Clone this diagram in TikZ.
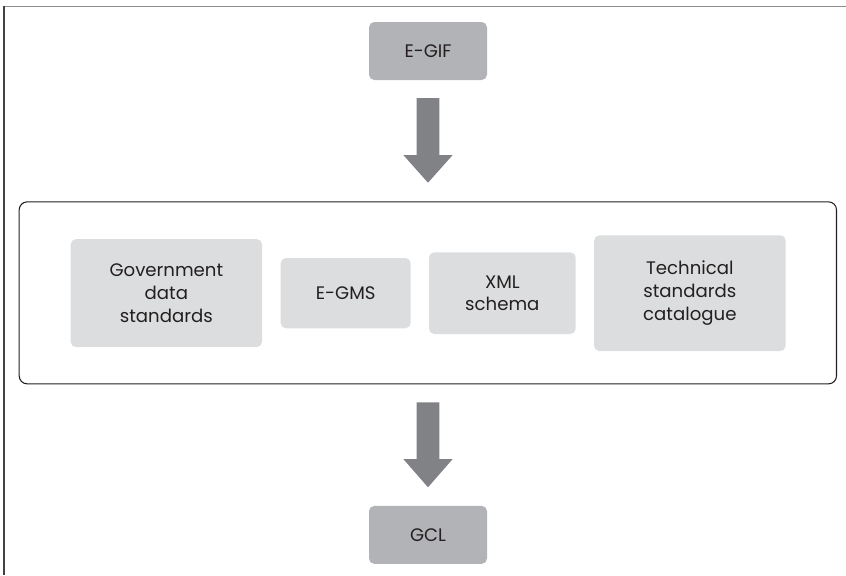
\documentclass[tikz,border=0pt]{standalone}
\usepackage{fontspec}
\setmainfont{Poppins}
\usetikzlibrary{calc}
\definecolor{darkbox}{HTML}{B2B3B6}
\definecolor{lightbox}{HTML}{DCDDDE}
\definecolor{arrowgray}{HTML}{808285}
\definecolor{txt}{HTML}{231F20}
\definecolor{topline}{HTML}{8C8C8C}
\begin{document}
\begin{tikzpicture}[x=0.75pt,y=-0.75pt,
  box/.style={rounded corners=4pt,inner sep=0pt,align=center,text=txt,
    font=\fontsize{13.6}{17}\selectfont},
  dbox/.style={box,fill=darkbox},
  lbox/.style={box,fill=lightbox},
  blockarrow/.style={fill=arrowgray}]
\useasboundingbox (0,0) rectangle (846,575);
% outer frame lines
\draw[topline,line width=1.3pt] (4,6.5) -- (846,6.5);
\draw[txt!85,line width=1.1pt] (4,6) -- (4,575);
% nodes
\node[dbox,minimum width=88.5pt,minimum height=43.5pt] (egif) at (428,51) {E-GIF};
\node[draw=txt,line width=0.8pt,rounded corners=6pt,minimum width=613pt,minimum height=136.5pt] (frame) at (427.85,292.85) {};
\node[lbox,minimum width=143.5pt,minimum height=81pt] (gov) at (166.35,293.15) {Government\\data\\standards};
\node[lbox,minimum width=97.5pt,minimum height=52.7pt] (egms) at (345.7,293.15) {E-GMS};
\node[lbox,minimum width=110pt,minimum height=61.3pt] (xml) at (502.35,293.15) {XML\\schema};
\node[lbox,minimum width=143.7pt,minimum height=86.8pt] (tech) at (689.85,293.15) {Technical\\standards\\catalogue};
\node[dbox,minimum width=88.5pt,minimum height=43.5pt] (gcl) at (428,534.85) {GCL};
% block arrows
\fill[blockarrow] (416.7,98) -- (439.3,98) -- (439.3,155) -- (452.7,155) -- (428,182.7) -- (403.3,155) -- (416.7,155) -- cycle;
\fill[blockarrow] (416.7,402.3) -- (439.3,402.3) -- (439.3,459) -- (452.7,459) -- (428,487.3) -- (403.3,459) -- (416.7,459) -- cycle;
\end{tikzpicture}
\end{document}
